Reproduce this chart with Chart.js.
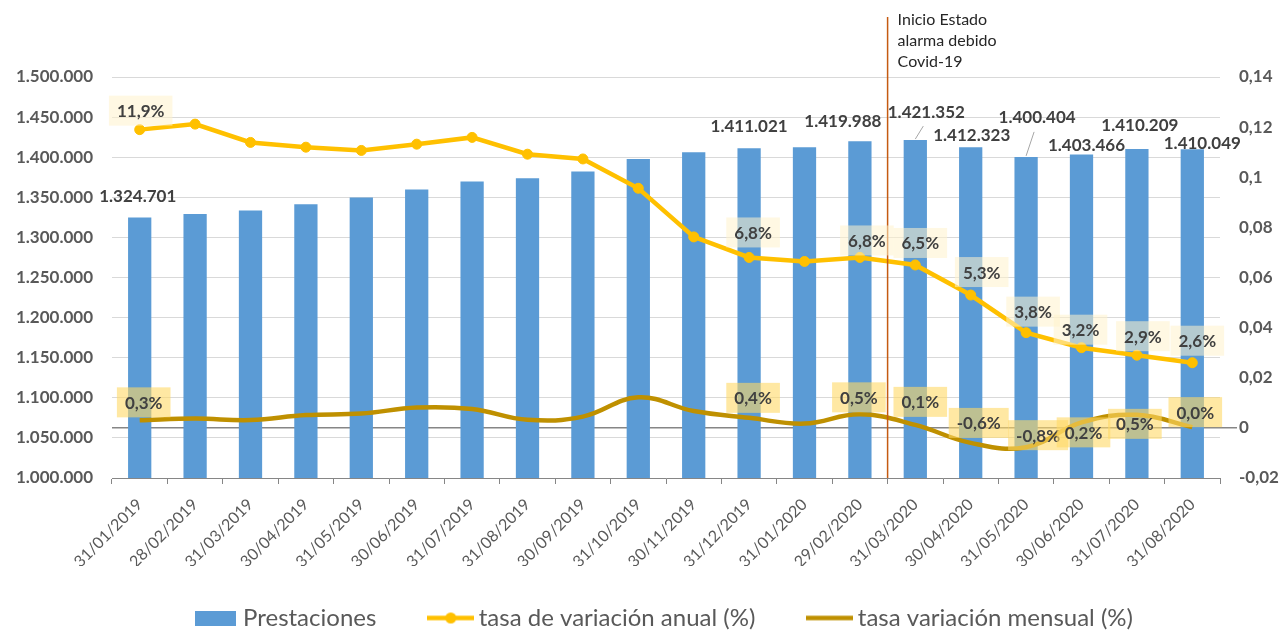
<!DOCTYPE html>
<html lang="es">
<head>
<meta charset="utf-8">
<title>Prestaciones</title>
<script src="https://cdn.jsdelivr.net/npm/chart.js@4.4.1/dist/chart.umd.min.js"></script>
<style>
  html, body { margin: 0; padding: 0; background: #fff; overflow: hidden; }
  #wrap { width: 1281px; height: 640px; }
</style>
</head>
<body>
<div id="wrap"><canvas id="grafico" width="1281" height="640"></canvas></div>
<script>
// Datos
const fechas = ['31/01/2019', '28/02/2019', '31/03/2019', '30/04/2019', '31/05/2019', '30/06/2019',
    '31/07/2019', '31/08/2019', '30/09/2019', '31/10/2019', '30/11/2019', '31/12/2019',
    '31/01/2020', '29/02/2020', '31/03/2020', '30/04/2020', '31/05/2020', '30/06/2020',
    '31/07/2020', '31/08/2020'];
const prestaciones = [1324701, 1329100, 1333400, 1341200, 1349600, 1359600, 1369600, 1373800,
    1382100, 1397900, 1406300, 1411021, 1412500, 1419988, 1421352, 1412323, 1400404, 1403466,
    1410209, 1410049];
const tasaAnual = [0.119, 0.1212, 0.1139, 0.112, 0.1107, 0.1132, 0.1159, 0.1092, 0.1073, 0.0956,
    0.0762, 0.068, 0.0664, 0.068, 0.065, 0.053, 0.038, 0.032, 0.029, 0.026];
const tasaMensual = [0.003, 0.0037, 0.0031, 0.0051, 0.0057, 0.0081, 0.0075, 0.0032, 0.0045, 0.0122,
    0.0067, 0.004, 0.0017, 0.0054, 0.0012, -0.006, -0.0077, 0.0022, 0.0052, 0.0003];
const nombresSeries = ['Prestaciones', 'tasa de variación anual (%)', 'tasa variación mensual (%)'];

// Ejes
const ejeIzqMin = 1000000, ejeIzqMax = 1500000, ejeIzqPaso = 50000;
const ejeDerMin = -0.02, ejeDerMax = 0.14, ejeDerPaso = 0.02;

// Puntos con etiqueta y marca del estado de alarma
const puntosEtiquetados = [0, 11, 13, 14, 15, 16, 17, 18, 19];
const indiceAlarma = 14;
const textoAlarma = ['Inicio Estado', 'alarma debido', 'Covid-19'];

const GRIS = '#595959';
Chart.defaults.font.family = 'Lato, "Open Sans", sans-serif';

function formatoMiles(v) {
    return String(Math.round(v)).replace(/\B(?=(\d{3})+(?!\d))/g, '.');
}
function formatoPct(v) {
    return (v * 100).toFixed(1).replace('.', ',') + '%';
}

// iconos de la leyenda
function icono(tipo, color) {
    const c = document.createElement('canvas');
    c.width = tipo === 'barra' ? 41 : 47;
    c.height = 15;
    const g = c.getContext('2d');
    g.fillStyle = color;
    g.strokeStyle = color;
    if (tipo === 'barra') {
        g.fillRect(0, 0, 41, 15);
    } else {
        g.lineWidth = 4.5;
        g.beginPath();
        g.moveTo(0, 7.5);
        g.lineTo(47, 7.5);
        g.stroke();
        if (tipo === 'punto') {
            g.beginPath();
            g.arc(23.5, 7.5, 5.5, 0, Math.PI * 2);
            g.fill();
        }
    }
    return c;
}
const iconos = [icono('barra', '#5B9BD5'), icono('punto', '#FFC000'), icono('linea', '#BF9000')];

function cajaEtiqueta(ctx, texto, x, y, fondo) {
    const w = ctx.measureText(texto).width + 16;
    const h = 30;
    ctx.fillStyle = fondo;
    ctx.fillRect(x - w / 2, y - h / 2, w, h);
    ctx.fillStyle = '#404040';
    ctx.fillText(texto, x, y + 1);
}

// Etiquetas de datos, linea de estado de alarma
const etiquetas = {
    id: 'etiquetas',
    afterDatasetsDraw(chart, args, opts) {
        const ctx = chart.ctx;
        const area = chart.chartArea;
        const xs = chart.scales.x;
        ctx.save();

        // linea vertical entre 29/02/2020 y 31/03/2020
        const xa = (xs.getPixelForValue(indiceAlarma - 1) + xs.getPixelForValue(indiceAlarma)) / 2;
        ctx.strokeStyle = '#C55A11';
        ctx.lineWidth = 1.5;
        ctx.beginPath();
        ctx.moveTo(xa, area.top - 60);
        ctx.lineTo(xa, area.bottom);
        ctx.stroke();
        ctx.font = '16px Lato';
        ctx.fillStyle = '#262626';
        ctx.textAlign = 'left';
        ctx.textBaseline = 'middle';
        textoAlarma.forEach((t, i) => ctx.fillText(t, xa + 10, area.top - 57 + i * 21));

        ctx.font = 'bold 17px Lato';
        ctx.textAlign = 'center';

        // valores de las barras
        const barras = chart.getDatasetMeta(0).data;
        puntosEtiquetados.forEach((idx, k) => {
            const el = barras[idx];
            const o = opts.barras[k];
            const x = el.x + o[0], y = el.y + o[1];
            if (o[2]) {
                ctx.strokeStyle = '#A6A6A6';
                ctx.lineWidth = 1;
                ctx.beginPath();
                ctx.moveTo(el.x, el.y - 1);
                ctx.lineTo(x - 3, y + 14);
                ctx.stroke();
            }
            ctx.fillStyle = '#404040';
            ctx.fillText(formatoMiles(prestaciones[idx]), x, y);
        });

        // tasas
        const anual = chart.getDatasetMeta(1).data;
        const mensual = chart.getDatasetMeta(2).data;
        puntosEtiquetados.forEach((idx, k) => {
            const a = opts.anual[k];
            cajaEtiqueta(ctx, formatoPct(tasaAnual[idx]), anual[idx].x + a[0], anual[idx].y + a[1], 'rgba(255,242,204,0.55)');
            const m = opts.mensual[k];
            cajaEtiqueta(ctx, formatoPct(tasaMensual[idx]), mensual[idx].x + m[0], mensual[idx].y + m[1], 'rgba(255,217,102,0.6)');
        });
        ctx.restore();
    }
};

const ctx = document.getElementById('grafico').getContext('2d');
new Chart(ctx, {
    type: 'bar',
    data: {
        labels: fechas,
        datasets: [{
            label: nombresSeries[0],
            data: prestaciones,
            yAxisID: 'y',
            backgroundColor: '#5B9BD5',
            borderWidth: 0,
            barPercentage: 0.42,
            categoryPercentage: 1,
            order: 3
        }, {
            type: 'line',
            label: nombresSeries[1],
            data: tasaAnual,
            yAxisID: 'y1',
            borderColor: '#FFC000',
            backgroundColor: '#FFC000',
            borderWidth: 4.5,
            pointRadius: 5,
            pointBorderWidth: 1,
            pointBackgroundColor: '#FFC000',
            pointBorderColor: '#FFC000',
            tension: 0,
            order: 1
        }, {
            type: 'line',
            label: nombresSeries[2],
            data: tasaMensual,
            yAxisID: 'y1',
            borderColor: '#BF9000',
            backgroundColor: '#BF9000',
            borderWidth: 4.5,
            pointRadius: 0,
            tension: 0.4,
            order: 2
        }]
    },
    options: {
        responsive: false,
        animation: false,
        layout: { padding: { top: 77, left: 0, right: 0, bottom: 0 } },
        scales: {
            x: {
                offset: true,
                afterFit: s => { s.height = 88; },
                grid: { drawOnChartArea: false, color: '#868686', tickLength: 6, offset: true },
                border: { color: '#868686' },
                ticks: { autoSkip: false, minRotation: 45, maxRotation: 45, padding: 11, color: GRIS, font: { size: 16 } }
            },
            y: {
                min: ejeIzqMin,
                max: ejeIzqMax,
                afterFit: s => { s.width = 112; },
                border: { display: false },
                grid: { color: '#D9D9D9', drawTicks: false },
                ticks: { stepSize: ejeIzqPaso, padding: 19, color: GRIS, font: { size: 17, weight: 'bold' }, callback: v => formatoMiles(v) }
            },
            y1: {
                position: 'right',
                min: ejeDerMin,
                max: ejeDerMax,
                afterFit: s => { s.width = 61; },
                border: { display: false },
                grid: {
                    lineWidth: 1.5,
                    tickLength: 17,
                    color: c => Math.abs(c.tick.value) < 1e-9 ? '#868686' : 'rgba(0,0,0,0)',
                    tickColor: c => Math.abs(c.tick.value) < 1e-9 ? '#868686' : 'rgba(0,0,0,0)'
                },
                ticks: {
                    stepSize: ejeDerPaso, padding: 2, color: GRIS, font: { size: 17, weight: 'bold' },
                    callback: v => String(Math.round(v * 100) / 100).replace('.', ',')
                }
            }
        },
        plugins: {
            tooltip: { enabled: false },
            legend: {
                position: 'bottom',
                fullSize: false,
                labels: {
                    usePointStyle: true,
                    pointStyleWidth: 32,
                    boxHeight: 15,
                    padding: 40,
                    color: GRIS,
                    font: { size: 24 },
                    sort: (a, b) => a.datasetIndex - b.datasetIndex,
                    generateLabels: chart => {
                        const items = Chart.defaults.plugins.legend.labels.generateLabels(chart);
                        items.forEach(it => {
                            it.pointStyle = iconos[it.datasetIndex];
                            // hueco extra entre elementos
                            if (it.datasetIndex < 2) it.text += '   ';
                        });
                        return items;
                    }
                }
            },
            etiquetas: {
                barras: [[-2, -21], [0, -22], [-17, -20], [11, -28, true], [1, -12], [11, -39, true], [5, -9], [3, -23], [10, -6]],
                anual: [[1, -19], [4, -25], [7, -17], [5, -22], [11, -23], [7, -21], [-1, -18], [6, -19], [5, -22]],
                mensual: [[4, -18], [4, -20], [-1, -17], [5, -23], [8, -20], [12, -12], [2, 10], [-2, 9], [3, -15]]
            }
        }
    },
    plugins: [etiquetas]
});
</script>
</body>
</html>
